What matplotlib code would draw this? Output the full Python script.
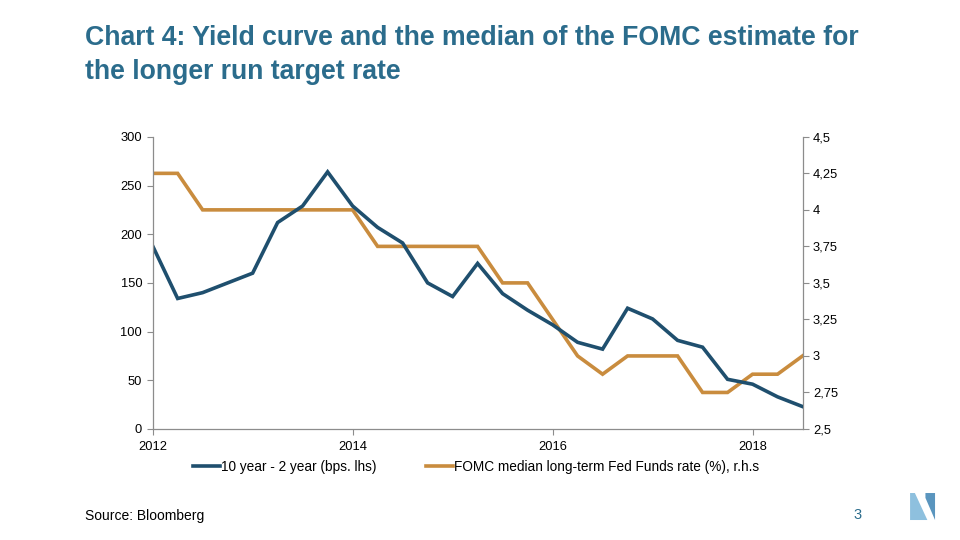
import matplotlib
matplotlib.use("Agg")
import matplotlib.pyplot as plt
from matplotlib.patches import Polygon

plt.rcParams["font.family"] = ["Liberation Sans", "DejaVu Sans"]

# quarterly observations, 2012 Q1 .. 2018 Q3
years = [2012 + 0.25 * i for i in range(27)]
spread_bps = [188, 134, 140, 150, 160, 212, 229, 264, 229, 207, 191, 150, 136,
              170, 139, 122, 107, 89, 82, 124, 113, 91, 84, 51, 46, 33, 23]
fomc_rate = [4.25, 4.25, 4.0, 4.0, 4.0, 4.0, 4.0, 4.0, 4.0, 3.75, 3.75, 3.75, 3.75,
             3.75, 3.5, 3.5, 3.25, 3.0, 2.875, 3.0, 3.0, 3.0, 2.75, 2.75, 2.875, 2.875, 3.0]

left_ticks = [0, 50, 100, 150, 200, 250, 300]
right_ticks = [2.5, 2.75, 3.0, 3.25, 3.5, 3.75, 4.0, 4.25, 4.5]
right_labels = ["2,5", "2,75", "3", "3,25", "3,5", "3,75", "4", "4,25", "4,5"]
x_ticks = [2012, 2014, 2016, 2018]

blue = "#1F4F6E"
orange = "#C98C3E"
title_col = "#2B6C8C"
grey = "#8C8C8C"

fig = plt.figure(figsize=(9.6, 5.4), dpi=100)
fig.patch.set_facecolor("white")

ax = fig.add_axes([0.159, 0.2056, 0.677, 0.541])
ax2 = ax.twinx()

l1, = ax.plot(years, spread_bps, color=blue, lw=2.6, solid_joinstyle="miter",
              label="10 year - 2 year (bps. lhs)")
l2, = ax2.plot(years, fomc_rate, color=orange, lw=2.6, solid_joinstyle="miter",
               label="FOMC median long-term Fed Funds rate (%), r.h.s")
ax.set_zorder(ax2.get_zorder() + 1)
ax.patch.set_visible(False)

ax.set_xlim(2012, 2018.5)
ax.set_ylim(0, 300)
ax2.set_ylim(2.5, 4.5)
ax.set_yticks(left_ticks)
ax2.set_yticks(right_ticks)
ax2.set_yticklabels(right_labels)
ax.set_xticks(x_ticks)
ax.set_xticklabels([str(t) for t in x_ticks])

for a in (ax, ax2):
    a.spines["top"].set_visible(False)
    for s in ("left", "right", "bottom"):
        a.spines[s].set_color(grey)
        a.spines[s].set_linewidth(0.9)
    a.tick_params(colors=grey, labelcolor="black", labelsize=9.3, length=4, width=0.8)
ax.spines["right"].set_visible(False)
ax2.spines["left"].set_visible(False)
ax2.spines["bottom"].set_visible(False)
ax.tick_params(axis="x", pad=5)

fig.legend(handles=[l1, l2], loc="center", bbox_to_anchor=(0.496, 0.135), ncol=2,
           frameon=False, fontsize=9.8, handlelength=2.0, handletextpad=0.1,
           columnspacing=3.6)

fig.text(0.0885, 0.953, "Chart 4: Yield curve and the median of the FOMC estimate for\n"
         "the longer run target rate", color=title_col, fontsize=19.2,
         fontweight="bold", va="top", ha="left", linespacing=1.38)
fig.text(0.0885, 0.044, "Source: Bloomberg", fontsize=10, va="center")
fig.text(0.893, 0.047, "3", fontsize=10.5, color=title_col, va="center", ha="center")

# logo
fig.patches.append(Polygon([(0.948, 0.087), (0.953, 0.087), (0.966, 0.037), (0.948, 0.037)],
                           closed=True, transform=fig.transFigure,
                           facecolor="#8EC0DE", edgecolor="none"))
fig.patches.append(Polygon([(0.964, 0.087), (0.974, 0.087), (0.974, 0.037), (0.964, 0.078)],
                           closed=True, transform=fig.transFigure,
                           facecolor="#5A95BE", edgecolor="none"))

fig.savefig("out.png", dpi=100)
